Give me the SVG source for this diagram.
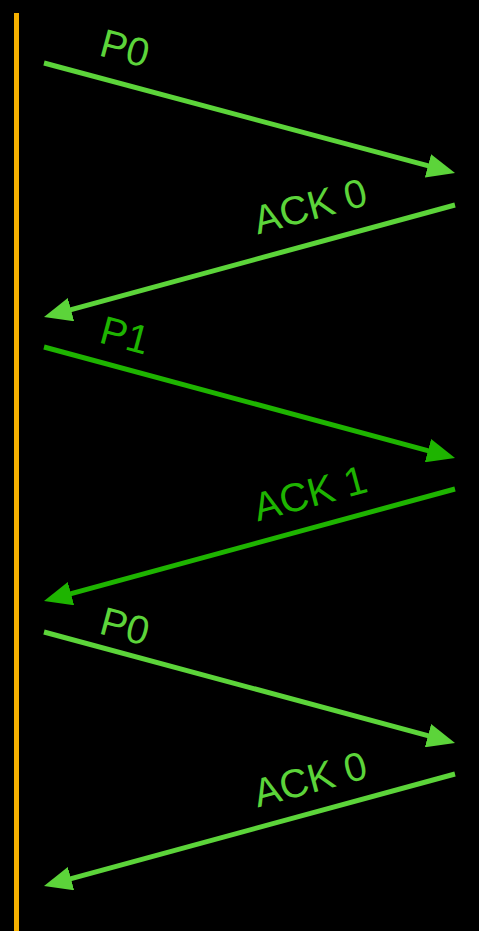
<svg xmlns="http://www.w3.org/2000/svg" width="479" height="931" viewBox="0 0 479 931">
<defs>
<style>
.l1{stroke:#5cd43a;stroke-width:5;fill:none}
.l2{stroke:#1eb400;stroke-width:5;fill:none}
.t{font-family:"Liberation Sans",Arial,sans-serif;font-size:40px;text-anchor:middle}
.c1{fill:#5cd43a}
.c2{fill:#1eb400}
</style>
<marker id="a1" viewBox="0 0 28 24" refX="11.2" refY="12" markerWidth="28" markerHeight="24" markerUnits="userSpaceOnUse" orient="auto"><path d="M0,0L28,12L0,24z" fill="#5cd43a"/></marker>
<marker id="a2" viewBox="0 0 28 24" refX="11.2" refY="12" markerWidth="28" markerHeight="24" markerUnits="userSpaceOnUse" orient="auto"><path d="M0,0L28,12L0,24z" fill="#1eb400"/></marker>
</defs>
<rect width="479" height="931" fill="#000"/>
<g id="timeline"><line x1="16.5" y1="13" x2="16.5" y2="931" stroke="#f5b000" stroke-width="5"/></g>
<g id="connectors">
<line class="l1" x1="44" y1="63" x2="438.8" y2="168.7" marker-end="url(#a1)"/>
<line class="l1" x1="455" y1="205" x2="60.2" y2="312.6" marker-end="url(#a1)"/>
<line class="l2" x1="44" y1="347" x2="438.8" y2="453.6" marker-end="url(#a2)"/>
<line class="l2" x1="455" y1="489" x2="60.2" y2="596.6" marker-end="url(#a2)"/>
<line class="l1" x1="44" y1="632" x2="438.8" y2="738.6" marker-end="url(#a1)"/>
<line class="l1" x1="455" y1="774" x2="60.2" y2="881.6" marker-end="url(#a1)"/>
</g>
<g id="label-p0a"><text class="t c1" transform="translate(125,48) rotate(15)" y="14">P0</text></g>
<g id="label-ack0a"><text class="t c1" transform="translate(310,206) rotate(-15)" y="14">ACK 0</text></g>
<g id="label-p1"><text class="t c2" transform="translate(125,335) rotate(15)" y="14">P1</text></g>
<g id="label-ack1"><text class="t c2" transform="translate(310,493) rotate(-15)" y="14">ACK 1</text></g>
<g id="label-p0b"><text class="t c1" transform="translate(125,626) rotate(15)" y="14">P0</text></g>
<g id="label-ack0b"><text class="t c1" transform="translate(310,779) rotate(-15)" y="14">ACK 0</text></g>
</svg>
